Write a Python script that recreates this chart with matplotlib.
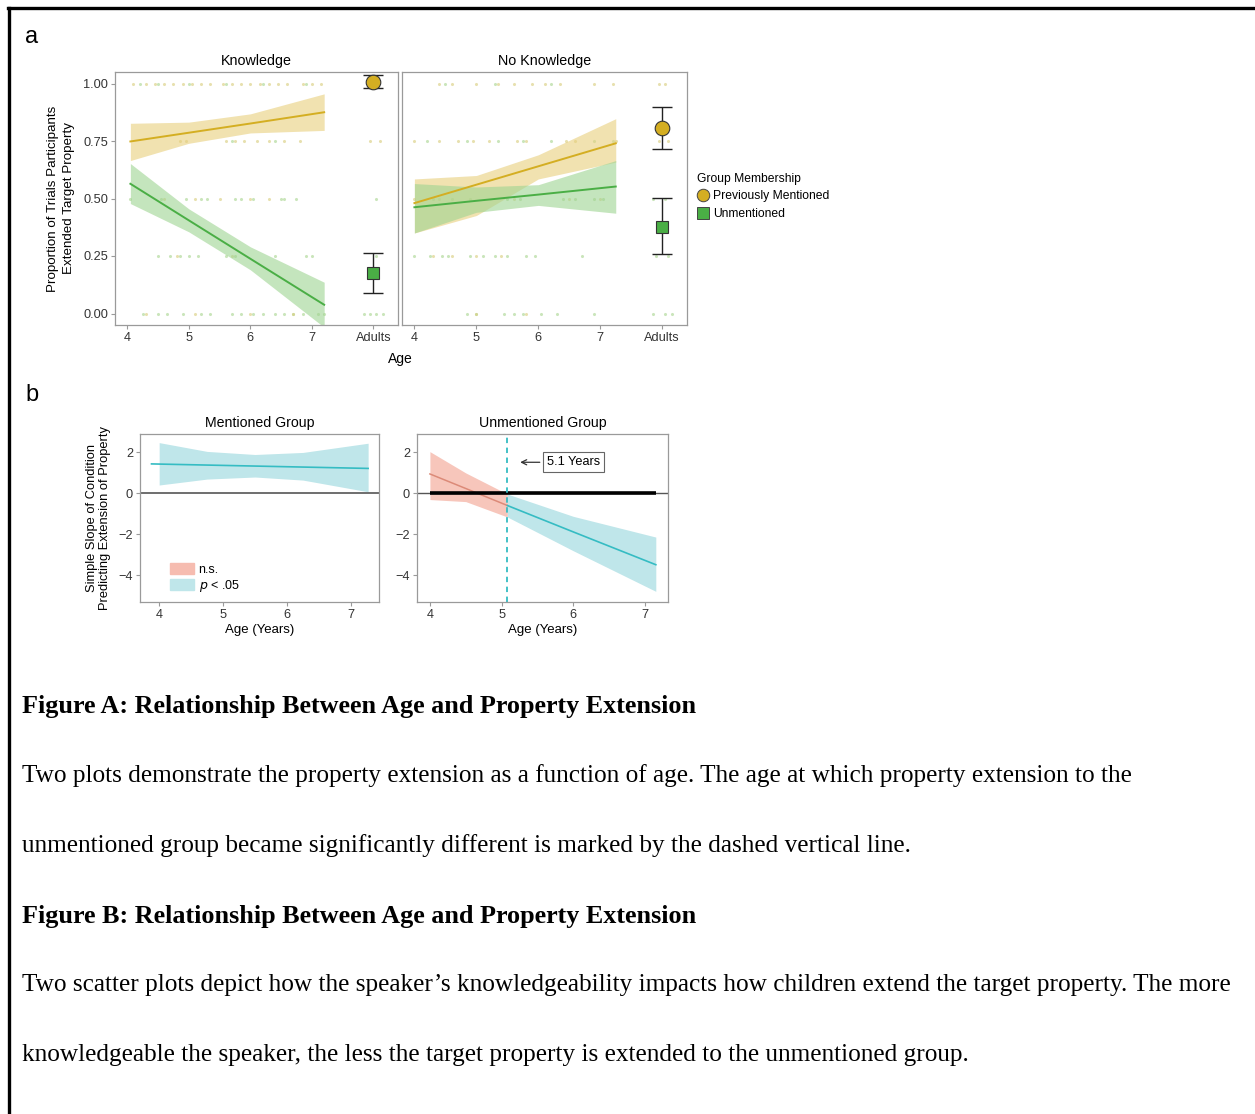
import matplotlib
matplotlib.use('Agg')
import matplotlib.pyplot as plt
import numpy as np
from matplotlib.lines import Line2D
from matplotlib.patches import Patch

plt.rcParams['font.family'] = ['Liberation Sans', 'DejaVu Sans']
plt.rcParams['axes.unicode_minus'] = True

###
# DATA
###
LEVELS = [1.00, 0.75, 0.50, 0.25, 0.00]
ADULT_X = 8

# individual child/adult proportions, ages per response level
KN_MENT_PTS = {1.00: [4.1, 4.3, 4.45, 4.6, 4.75, 4.9, 5.05, 5.2, 5.35, 5.55, 5.7, 5.85, 6.0,
                      6.15, 6.3, 6.45, 6.6, 6.85, 7.0, 7.15, 7.95, 8.05],
               0.75: [4.85, 4.95, 5.6, 5.75, 5.9, 6.1, 6.3, 6.55, 6.8, 7.95, 8.1],
               0.50: [4.6, 5.1, 5.5, 6.0, 6.3],
               0.25: [4.8, 5.7],
               0.00: [4.3, 5.1, 6.0, 6.7]}
KN_UNM_PTS = {1.00: [4.2, 4.5, 5.0, 5.6, 6.2, 6.9],
              0.75: [5.7, 6.4],
              0.50: [4.05, 4.55, 4.95, 5.2, 5.3, 5.75, 5.85, 6.05, 6.5, 6.55, 6.75, 8.05],
              0.25: [4.5, 4.7, 4.85, 5.0, 5.15, 5.6, 5.75, 6.4, 6.9, 7.0, 8.05],
              0.00: [4.25, 4.5, 4.65, 4.9, 5.2, 5.35, 5.7, 5.85, 6.05, 6.2, 6.4, 6.55,
                     6.7, 6.85, 7.1, 7.2, 7.85, 7.95, 8.05, 8.15]}
NK_MENT_PTS = {1.00: [4.4, 4.6, 5.0, 5.35, 5.6, 5.9, 6.1, 6.35, 6.9, 7.2, 7.95, 8.05],
               0.75: [4.0, 4.4, 4.7, 4.95, 5.2, 5.65, 5.8, 6.45, 6.6, 7.25, 7.95, 8.1],
               0.50: [4.0, 4.4, 5.6, 6.5, 7.0],
               0.25: [4.3, 4.6, 5.0, 5.4],
               0.00: [5.0, 5.8]}
NK_UNM_PTS = {1.00: [4.5, 5.3, 6.2],
              0.75: [4.2, 4.85, 5.35, 5.75, 6.2, 6.9, 7.2],
              0.50: [4.3, 4.6, 4.9, 5.5, 5.7, 6.4, 6.6, 6.9, 7.05, 7.85, 8.05],
              0.25: [4.0, 4.25, 4.45, 4.55, 4.9, 5.1, 5.3, 5.5, 5.8, 5.95, 6.7, 7.9, 8.1],
              0.00: [4.85, 5.0, 5.45, 5.6, 5.75, 6.05, 6.3, 6.9, 7.85, 8.05, 8.15]}

# logistic fits (line + 95% band)
KN_FIT_X = [4.05, 5.0, 6.0, 7.2]
KN_MENT_FIT = [0.748, 0.786, 0.826, 0.875]
KN_MENT_LO = [0.665, 0.740, 0.785, 0.796]
KN_MENT_HI = [0.827, 0.832, 0.868, 0.955]
KN_UNM_FIT = [0.564, 0.405, 0.238, 0.038]
KN_UNM_LO = [0.478, 0.355, 0.190, -0.060]
KN_UNM_HI = [0.652, 0.455, 0.290, 0.136]

NK_FIT_X = [4.0, 5.0, 6.0, 7.25]
NK_MENT_FIT = [0.480, 0.560, 0.640, 0.740]
NK_MENT_LO = [0.350, 0.426, 0.585, 0.658]
NK_MENT_HI = [0.585, 0.600, 0.690, 0.847]
NK_UNM_FIT = [0.462, 0.490, 0.517, 0.552]
NK_UNM_LO = [0.350, 0.440, 0.470, 0.436]
NK_UNM_HI = [0.565, 0.550, 0.560, 0.665]

# adult means with error bars: (mean, low, high)
KN_ADULT_MENT = (1.006, 0.980, 1.038)
KN_ADULT_UNM = (0.175, 0.090, 0.264)
NK_ADULT_MENT = (0.807, 0.714, 0.900)
NK_ADULT_UNM = (0.378, 0.257, 0.503)

# simple slopes (panel b)
MENT_LINE_X = [3.88, 7.27]
MENT_LINE_Y = [1.44, 1.22]
MENT_BAND_X = [4.0, 4.75, 5.5, 6.25, 7.27]
MENT_BAND_LO = [0.41, 0.70, 0.80, 0.65, 0.08]
MENT_BAND_HI = [2.48, 2.05, 1.90, 2.00, 2.45]

CUTOFF = 5.08
UNM_NS_X = [4.0, 4.5, CUTOFF]
UNM_NS_Y = [0.95, 0.24, -0.59]
UNM_NS_LO = [-0.30, -0.40, -1.15]
UNM_NS_HI = [2.04, 1.00, -0.03]
UNM_SIG_X = [CUTOFF, 6.0, 7.15]
UNM_SIG_Y = [-0.59, -1.88, -3.48]
UNM_SIG_LO = [-1.15, -2.80, -4.78]
UNM_SIG_HI = [-0.03, -1.12, -2.13]

###
# STYLE
###
W, H = 1255, 1114
YEL, YEL_BAND = '#d4ae22', '#e8cf7c'
GRN, GRN_BAND = '#4aae45', '#9ed491'
PT_YEL, PT_GRN = '#d8cc7a', '#a8d48e'
CYAN, CYAN_BAND = '#35bcc3', '#bfe6ea'
SALMON, SALMON_BAND = '#dc8a78', '#f6bcb0'
FRAME = '#9a9a9a'


def px_axes(fig, l, t, r, b):
    return fig.add_axes([l / W, 1 - b / H, (r - l) / W, (b - t) / H])


def style(ax):
    for s in ax.spines.values():
        s.set_color(FRAME)
        s.set_linewidth(0.9)
    ax.tick_params(colors=FRAME, labelcolor='#333333', length=3, width=0.8,
                   labelsize=9.2, pad=2)


fig = plt.figure(figsize=(W / 100, H / 100), dpi=100)

###
# PANEL A
###
def facet(ax, ment_pts, unm_pts, fx, mfit, mlo, mhi, ufit, ulo, uhi, ad_m, ad_u, title):
    for lev in LEVELS:
        ax.scatter(unm_pts[lev], [lev] * len(unm_pts[lev]), s=5, color=PT_GRN,
                   alpha=0.6, linewidths=0, zorder=1)
        ax.scatter(ment_pts[lev], [lev] * len(ment_pts[lev]), s=5, color=PT_YEL,
                   alpha=0.6, linewidths=0, zorder=1)
    ax.fill_between(fx, mlo, mhi, color=YEL_BAND, alpha=0.6, linewidth=0, zorder=2)
    ax.fill_between(fx, ulo, uhi, color=GRN_BAND, alpha=0.6, linewidth=0, zorder=2)
    ax.plot(fx, mfit, color=YEL, lw=1.4, zorder=3)
    ax.plot(fx, ufit, color=GRN, lw=1.4, zorder=3)
    for (m, lo, hi), col, mk, sz in [(ad_m, YEL, 'o', 10.5), (ad_u, GRN, 's', 9)]:
        ax.errorbar([ADULT_X], [m], yerr=[[m - lo], [hi - m]], fmt='none',
                    ecolor='#222222', elinewidth=1, capsize=7, zorder=4)
        ax.plot([ADULT_X], [m], marker=mk, ms=sz, color=col, mec='#333333',
                mew=0.8, ls='none', zorder=5)
    ax.set_xlim(3.8, 8.4)
    ax.set_ylim(-0.05, 1.05)
    ax.set_xticks([4, 5, 6, 7, 8])
    ax.set_xticklabels(['4', '5', '6', '7', 'Adults'])
    ax.set_title(title, fontsize=10.3, pad=5)
    style(ax)


ax_k = px_axes(fig, 115, 72, 398, 325)
facet(ax_k, KN_MENT_PTS, KN_UNM_PTS, KN_FIT_X, KN_MENT_FIT, KN_MENT_LO, KN_MENT_HI,
      KN_UNM_FIT, KN_UNM_LO, KN_UNM_HI, KN_ADULT_MENT, KN_ADULT_UNM, 'Knowledge')
ax_k.set_yticks([0, 0.25, 0.5, 0.75, 1.0])
ax_k.set_yticklabels(['0.00', '0.25', '0.50', '0.75', '1.00'])
ax_k.set_ylabel('Proportion of Trials Participants\nExtended Target Property',
                fontsize=9.6, linespacing=1.4, labelpad=6)

ax_nk = px_axes(fig, 402, 72, 687, 325)
facet(ax_nk, NK_MENT_PTS, NK_UNM_PTS, NK_FIT_X, NK_MENT_FIT, NK_MENT_LO, NK_MENT_HI,
      NK_UNM_FIT, NK_UNM_LO, NK_UNM_HI, NK_ADULT_MENT, NK_ADULT_UNM, 'No Knowledge')
ax_nk.set_yticks([])

fig.text(400 / W, 1 - 359 / H, 'Age', ha='center', va='center', fontsize=10)

handles = [Line2D([], [], marker='o', ls='none', ms=9, color=YEL, mec='#444444', mew=0.7),
           Line2D([], [], marker='s', ls='none', ms=8, color=GRN, mec='#444444', mew=0.7)]
leg = fig.legend(handles, ['Previously Mentioned', 'Unmentioned'], title='Group Membership',
                 loc='upper left', bbox_to_anchor=(697 / W, 1 - 173 / H), frameon=False,
                 fontsize=8.7, title_fontsize=8.7, handletextpad=0.3, handlelength=1.0,
                 labelspacing=0.45, borderaxespad=0, borderpad=0)
leg._legend_box.align = 'left'

fig.text(32 / W, 1 - 37 / H, 'a', ha='center', va='center', fontsize=17)
fig.text(32 / W, 1 - 395 / H, 'b', ha='center', va='center', fontsize=17)

###
# PANEL B
###
ax_m = px_axes(fig, 140, 434, 379, 602)
ax_m.fill_between(MENT_BAND_X, MENT_BAND_LO, MENT_BAND_HI, color=CYAN_BAND, linewidth=0)
ax_m.plot(MENT_LINE_X, MENT_LINE_Y, color=CYAN, lw=1.2)
ax_m.axhline(0, color='#555555', lw=1.2)
ax_m.set_xlim(3.7, 7.44)
ax_m.set_xticks([4, 5, 6, 7])
ax_m.set_title('Mentioned Group', fontsize=10.2, pad=5)
ax_m.set_xlabel('Age (Years)', fontsize=9.5, labelpad=2)
ax_m.set_ylabel('Simple Slope of Condition\nPredicting Extension of Property',
                fontsize=9.3, linespacing=1.2, labelpad=5)
ax_m.legend([Patch(color=SALMON_BAND), Patch(color=CYAN_BAND)],
            ['n.s.', '$p$ < .05'], loc='lower left', bbox_to_anchor=(0.125, 0.05),
            frameon=False, fontsize=9, handlelength=1.9, handleheight=1.0,
            labelspacing=0.15, handletextpad=0.4, borderpad=0, borderaxespad=0)

ax_u = px_axes(fig, 417, 434, 668, 602)
ax_u.fill_between(UNM_NS_X, UNM_NS_LO, UNM_NS_HI, color=SALMON_BAND, alpha=0.85, linewidth=0)
ax_u.fill_between(UNM_SIG_X, UNM_SIG_LO, UNM_SIG_HI, color=CYAN_BAND, linewidth=0)
ax_u.plot(UNM_NS_X, UNM_NS_Y, color=SALMON, lw=1.1)
ax_u.plot(UNM_SIG_X, UNM_SIG_Y, color=CYAN, lw=1.2)
ax_u.axhline(0, color='#555555', lw=1.0)
ax_u.plot([UNM_NS_X[0], UNM_SIG_X[-1]], [0, 0], color='black', lw=2.6, solid_capstyle='butt')
ax_u.axvline(CUTOFF, color=CYAN, lw=1.3, ls=(0, (3, 2.5)))
ax_u.annotate('%.1f Years' % CUTOFF, xy=(5.22, 1.52), xytext=(5.63, 1.52),
              fontsize=9.2, va='center', ha='left',
              bbox=dict(boxstyle='square,pad=0.3', fc='white', ec='#666666', lw=0.8),
              arrowprops=dict(arrowstyle='->', color='#333333', lw=0.9))
ax_u.set_xlim(3.82, 7.32)
ax_u.set_xticks([4, 5, 6, 7])
ax_u.set_title('Unmentioned Group', fontsize=10.2, pad=5)
ax_u.set_xlabel('Age (Years)', fontsize=9.5, labelpad=2)

for ax in (ax_m, ax_u):
    ax.set_ylim(-5.3, 2.9)
    ax.set_yticks([-4, -2, 0, 2])
    style(ax)

###
# CAPTION
###
SERIF = 'Liberation Serif'
caption = [
    (707, 'Figure A: Relationship Between Age and Property Extension', 'bold', 18.8),
    (776, 'Two plots demonstrate the property extension as a function of age. The age at which property extension to the', 'normal', 18.2),
    (846, 'unmentioned group became significantly different is marked by the dashed vertical line.', 'normal', 18.2),
    (916, 'Figure B: Relationship Between Age and Property Extension', 'bold', 18.8),
    (985, 'Two scatter plots depict how the speaker\u2019s knowledgeability impacts how children extend the target property. The more', 'normal', 18.2),
    (1055, 'knowledgeable the speaker, the less the target property is extended to the unmentioned group.', 'normal', 18.2),
]
for y, txt, wt, fs in caption:
    fig.text(22 / W, 1 - y / H, txt, ha='left', va='center', fontsize=fs,
             family=SERIF, weight=wt)

# frame lines along the top and left edges
fig.add_artist(Line2D([8 / W, 1], [1 - 8 / H, 1 - 8 / H], color='black', lw=2.4))
fig.add_artist(Line2D([9 / W, 9 / W], [0, 1 - 8 / H], color='black', lw=2.4))

fig.savefig('out.png', dpi=100)
